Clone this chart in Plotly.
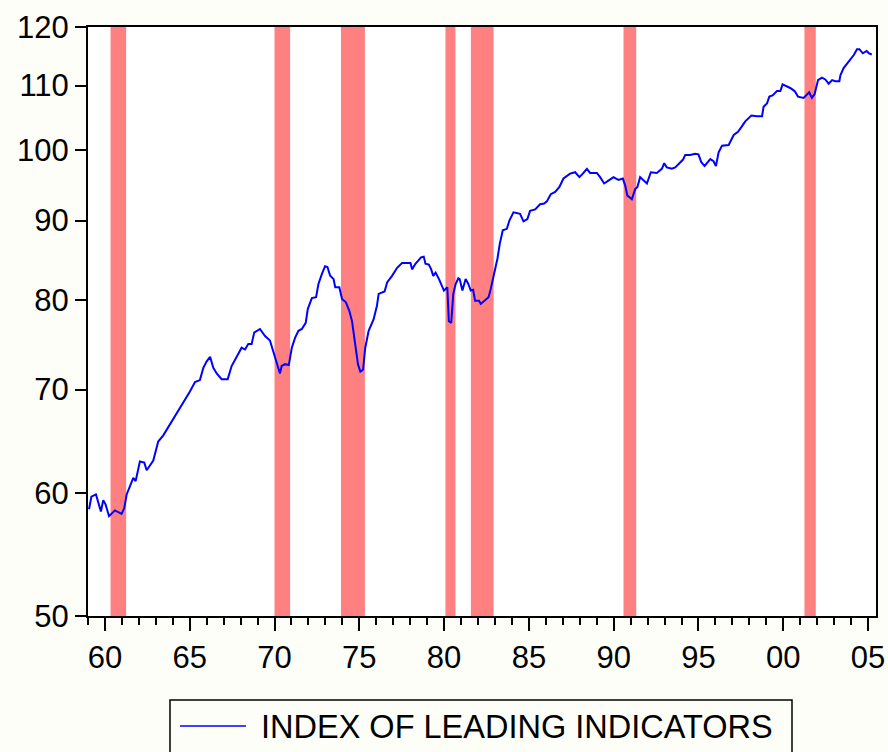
import plotly.graph_objects as go
import math

# ---- data (decimal year, index value) ----
years = [
    1959.06, 1959.2, 1959.47, 1959.76, 1959.9, 1960.04, 1960.24, 1960.59, 1960.98, 1961.14,
    1961.28, 1961.67, 1961.81, 1962.06, 1962.32, 1962.46, 1962.85, 1963.14, 1963.44, 1963.7,
    1964.03, 1964.42, 1964.72, 1965.01, 1965.31, 1965.6, 1965.8, 1966.0, 1966.2, 1966.39,
    1966.59, 1966.88, 1967.24, 1967.47, 1967.77, 1968.06, 1968.26, 1968.45, 1968.65, 1968.8,
    1969.14, 1969.44, 1969.73, 1969.93, 1970.13, 1970.32, 1970.42, 1970.62, 1970.84, 1971.02,
    1971.21, 1971.41, 1971.61, 1971.84, 1971.96, 1972.2, 1972.45, 1972.59, 1972.79, 1972.98,
    1973.12, 1973.28, 1973.48, 1973.58, 1973.82, 1973.98, 1974.21, 1974.41, 1974.57, 1974.76,
    1974.92, 1975.06, 1975.22, 1975.35, 1975.55, 1975.84, 1976.04, 1976.14, 1976.49, 1976.64,
    1976.93, 1977.23, 1977.52, 1978.02, 1978.11, 1978.31, 1978.5, 1978.64, 1978.8, 1978.9,
    1979.1, 1979.24, 1979.36, 1979.5, 1979.7, 1979.9, 1979.99, 1980.19, 1980.28, 1980.42,
    1980.54, 1980.68, 1980.84, 1980.92, 1981.08, 1981.27, 1981.43, 1981.57, 1981.71, 1981.83,
    1982.06, 1982.16, 1982.46, 1982.62, 1982.75, 1982.95, 1983.15, 1983.28, 1983.46, 1983.7,
    1983.85, 1984.09, 1984.32, 1984.48, 1984.68, 1984.91, 1985.07, 1985.37, 1985.66, 1985.9,
    1986.06, 1986.29, 1986.55, 1986.8, 1987.04, 1987.43, 1987.73, 1987.98, 1988.18, 1988.42,
    1988.61, 1989.01, 1989.2, 1989.44, 1989.69, 1989.99, 1990.28, 1990.54, 1990.68, 1990.81,
    1990.97, 1991.07, 1991.27, 1991.4, 1991.56, 1991.8, 1991.96, 1992.19, 1992.54, 1992.84,
    1992.98, 1993.13, 1993.43, 1993.63, 1993.82, 1994.08, 1994.22, 1994.51, 1994.81, 1995.0,
    1995.16, 1995.36, 1995.7, 1995.89, 1996.03, 1996.19, 1996.39, 1996.78, 1997.08, 1997.33,
    1997.53, 1997.76, 1997.96, 1998.12, 1998.45, 1998.75, 1998.84, 1999.04, 1999.18, 1999.37,
    1999.63, 1999.83, 1999.96, 2000.12, 2000.41, 2000.67, 2000.87, 2001.2, 2001.4, 2001.53,
    2001.69, 2001.85, 2002.05, 2002.28, 2002.48, 2002.68, 2002.88, 2003.07, 2003.31, 2003.37,
    2003.56, 2003.76, 2003.96, 2004.16, 2004.35, 2004.49, 2004.69, 2004.92, 2005.06, 2005.22,
]
index_values = [
    58.6, 59.7, 59.9, 58.4, 59.4, 59.0, 58.0, 58.5, 58.2, 58.7,
    59.9, 61.4, 61.1, 62.9, 62.8, 62.1, 63.0, 64.8, 65.4, 66.1,
    67.0, 68.1, 69.0, 69.8, 70.8, 71.0, 72.3, 73.0, 73.5, 72.3,
    71.7, 71.1, 71.1, 72.5, 73.5, 74.5, 74.3, 74.9, 74.9, 76.2,
    76.6, 75.8, 75.3, 74.1, 72.7, 71.7, 72.5, 72.7, 72.6, 74.5,
    75.6, 76.4, 76.6, 77.3, 78.9, 80.2, 80.3, 81.9, 83.1, 84.1,
    84.0, 82.9, 82.5, 81.5, 81.5, 80.1, 79.7, 78.7, 77.5, 74.9,
    72.7, 71.9, 72.1, 74.5, 76.4, 77.7, 79.3, 80.7, 81.0, 82.1,
    82.9, 83.9, 84.5, 84.5, 83.7, 84.4, 84.9, 85.2, 85.3, 84.4,
    84.3, 83.7, 82.9, 83.3, 82.5, 81.5, 81.1, 81.5, 77.5, 77.3,
    80.7, 81.9, 82.6, 82.5, 81.1, 82.5, 81.9, 81.1, 81.2, 79.9,
    79.9, 79.5, 80.0, 80.3, 81.3, 83.0, 85.1, 86.9, 88.7, 88.9,
    90.0, 91.1, 91.0, 90.9, 89.9, 90.2, 91.3, 91.5, 92.2, 92.3,
    92.6, 93.6, 93.9, 94.6, 95.8, 96.5, 96.7, 96.0, 96.5, 97.2,
    96.6, 96.6, 96.0, 95.1, 95.5, 96.0, 95.6, 95.8, 94.8, 93.4,
    93.1, 92.9, 94.3, 94.6, 96.0, 95.5, 95.1, 96.7, 96.6, 97.2,
    98.0, 97.4, 97.2, 97.4, 97.9, 98.5, 99.2, 99.2, 99.4, 99.3,
    98.2, 97.6, 98.6, 98.3, 97.6, 99.6, 100.6, 100.7, 102.2, 102.7,
    103.4, 104.3, 104.8, 105.2, 105.1, 105.1, 106.6, 107.1, 108.2, 108.4,
    109.1, 109.1, 110.2, 110.0, 109.6, 109.1, 108.2, 108.0, 108.6, 108.9,
    108.0, 108.6, 110.9, 111.3, 111.0, 110.3, 110.9, 110.7, 110.7, 111.7,
    112.9, 113.7, 114.5, 115.1, 116.1, 116.1, 115.4, 115.8, 115.4, 115.2,
]

recession_start = [1960.33, 1970.0, 1973.92, 1980.08, 1981.58, 1990.58, 2001.25]
recession_end = [1961.25, 1970.92, 1975.33, 1980.67, 1982.92, 1991.33, 2001.92]

y_ticks = [50, 60, 70, 80, 90, 100, 110, 120]
x_ticks = [1960, 1965, 1970, 1975, 1980, 1985, 1990, 1995, 2000, 2005]
x_tick_labels = ["60", "65", "70", "75", "80", "85", "90", "95", "00", "05"]
series_name = "INDEX OF LEADING INDICATORS"

# ---- layout geometry ----
W, H = 888, 752
ML, MR, MT, MB = 88, 12, 27, 136
PW, PH = W - ML - MR, H - MT - MB
FONT = "Arial, Liberation Sans, sans-serif"


def px_x(p):
    return (p - ML) / PW


def px_y(p):
    return (H - MB - p) / PH


fig = go.Figure()
fig.add_trace(go.Scatter(
    x=years, y=index_values, mode="lines", name=series_name,
    line=dict(color="#0000FF", width=2), showlegend=False,
))

shapes = []
for s, e in zip(recession_start, recession_end):
    shapes.append(dict(type="rect", xref="x", yref="paper", x0=s, x1=e, y0=0, y1=1,
                       fillcolor="#FF8080", line=dict(width=0), layer="below"))

# legend box drawn manually
shapes.append(dict(type="rect", xref="paper", yref="paper",
                   x0=px_x(170), x1=px_x(792), y0=px_y(700), y1=px_y(780),
                   line=dict(color="black", width=1.5), fillcolor="rgba(0,0,0,0)"))
shapes.append(dict(type="line", xref="paper", yref="paper",
                   x0=px_x(180), x1=px_x(246), y0=px_y(726), y1=px_y(726),
                   line=dict(color="#0000FF", width=1.5)))

fig.update_layout(
    width=W, height=H,
    margin=dict(l=ML, r=MR, t=MT, b=MB, autoexpand=False),
    paper_bgcolor="#FEFEF9",
    plot_bgcolor="white",
    font=dict(family=FONT, size=31, color="black"),
    shapes=shapes,
    annotations=[dict(text=series_name, xref="paper", yref="paper",
                      x=px_x(259), y=px_y(727), xanchor="left", yanchor="middle",
                      showarrow=False, font=dict(family=FONT, size=32.5, color="black"))],
)

fig.update_xaxes(
    range=[1959, 2005.47], automargin=False,
    tickmode="array", tickvals=x_ticks, ticktext=x_tick_labels,
    ticks="outside", ticklen=13, tickwidth=1.5, tickcolor="black",
    minor=dict(tickmode="linear", tick0=1959, dtick=1, ticks="outside",
               ticklen=7, tickwidth=1.5, tickcolor="black", showgrid=False),
    showgrid=False, zeroline=False,
    showline=True, linecolor="black", linewidth=2, mirror=True,
    tickfont=dict(size=31),
)
fig.update_yaxes(
    type="log", range=[math.log10(50), math.log10(120)], automargin=False,
    tickmode="array", tickvals=y_ticks, ticktext=[str(v) for v in y_ticks],
    ticks="outside", ticklen=11, tickwidth=1.5, tickcolor="black",
    showgrid=False, zeroline=False,
    showline=True, linecolor="black", linewidth=2, mirror=True,
    tickfont=dict(size=31),
)

fig.write_html(
    "out.html",
    config={"displayModeBar": False},
    post_script="document.body.style.margin='0';document.body.style.overflow='hidden';"
                "document.body.style.background='#FEFEF9';",
)
